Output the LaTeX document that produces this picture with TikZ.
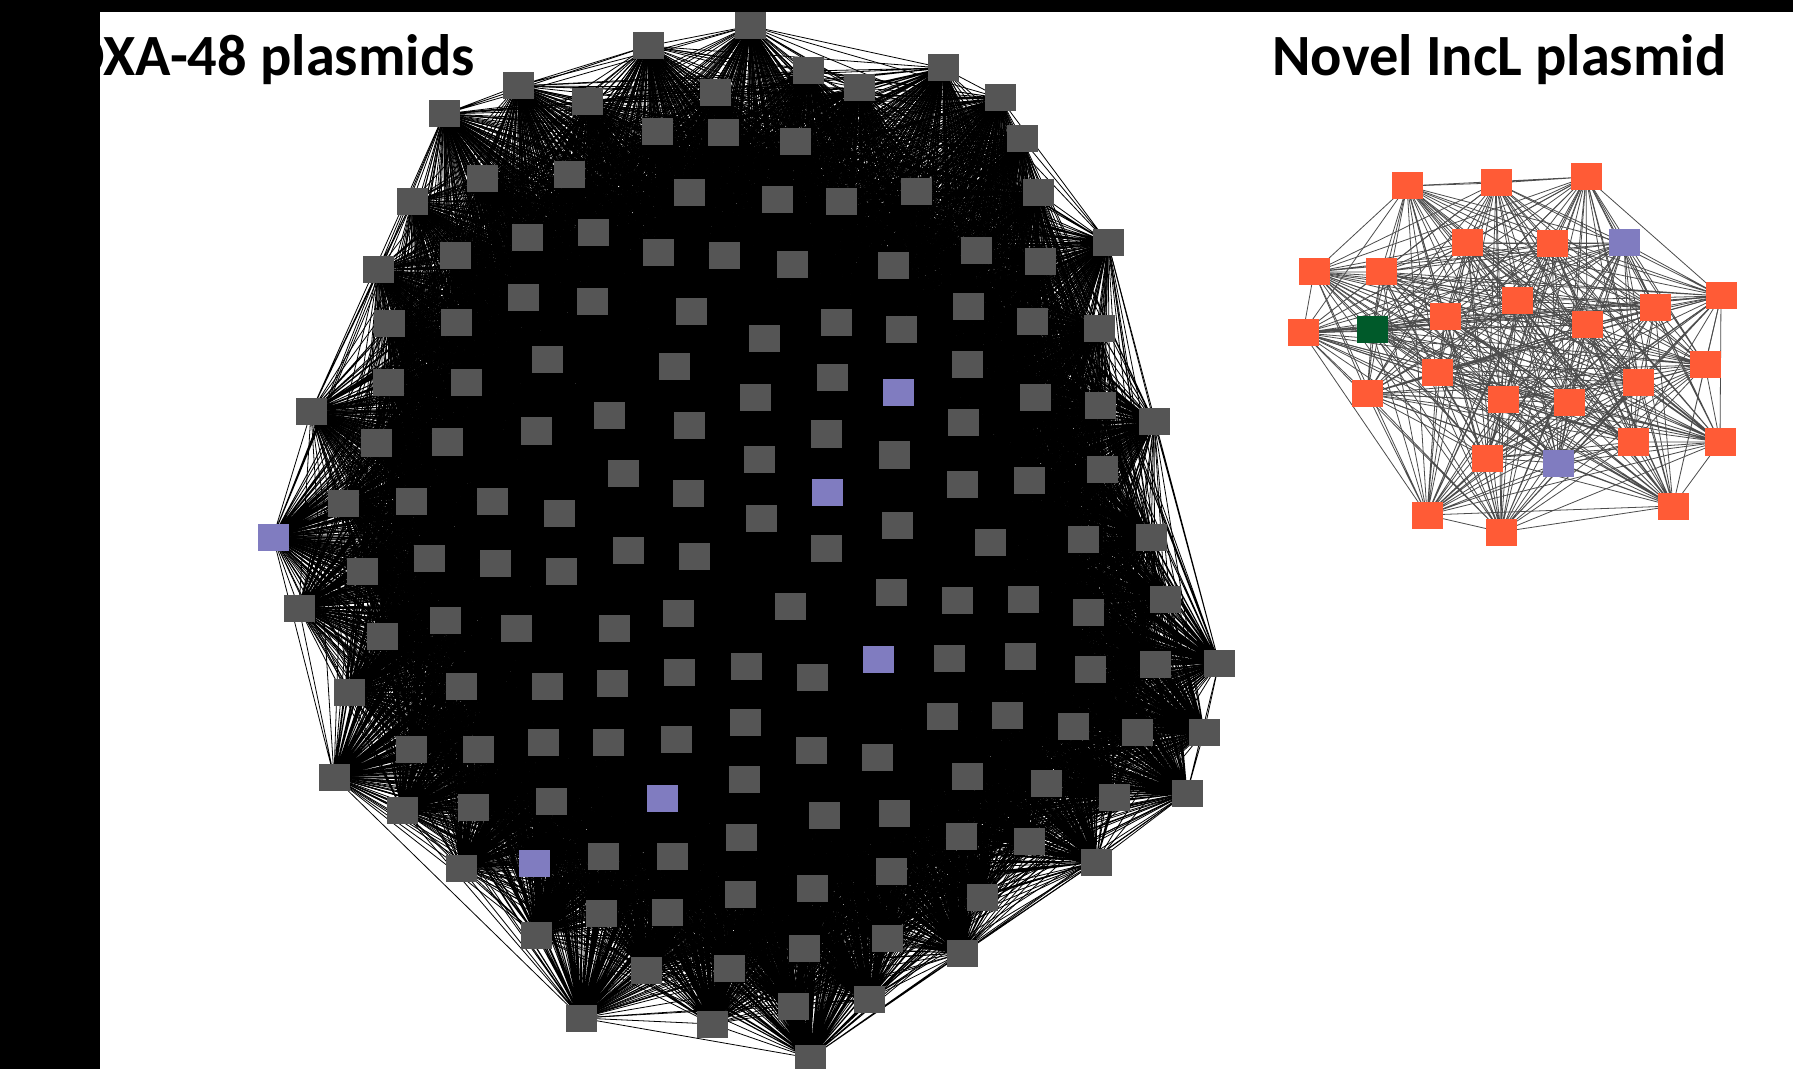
\documentclass[tikz,border=0pt]{standalone}
\usepackage{fontspec}
\setmainfont{Carlito}
\usetikzlibrary{backgrounds}
\definecolor{colg}{HTML}{555555}
\definecolor{colp}{HTML}{807CC0}
\definecolor{colo}{HTML}{FF5B36}
\definecolor{cold}{HTML}{005A2A}
\begin{document}
\begin{tikzpicture}[x=0.5pt,y=-0.5pt,
  sq/.style={rectangle,inner sep=0pt,minimum width=15.5pt,minimum height=13.5pt},
  link/.style={line width=0.4pt,black},
  title/.style={inner sep=0pt,font=\fontsize{29.2}{35}\selectfont\bfseries}]
  \useasboundingbox (0,0) rectangle (1793,1069);
  % OXA-48 network
  \foreach \x/\y/\c [count=\n] in {750/26/g, 648/46/g, 518/86/g, 587/102/g, 715/93/g, 444/114/g, 657/132/g, 723/133/g,
    482/179/g, 569/175/g, 412/202/g, 689/193/g, 527/238/g, 593/233/g, 658/253/g, 724/256/g, 378/270/g, 455/256/g,
    523/298/g, 592/302/g, 691/312/g, 389/324/g, 456/323/g, 808/71/g, 859/88/g, 943/68/g, 1000/98/g, 795/142/g,
    1022/139/g, 777/200/g, 841/202/g, 916/192/g, 1038/193/g, 1108/243/g, 792/265/g, 893/266/g, 976/251/g, 1040/262/g,
    764/339/g, 836/323/g, 901/330/g, 968/307/g, 1032/322/g, 1099/329/g,
    547/360/g, 674/367/g, 311/412/g, 388/383/g, 466/383/g, 376/443/g, 447/442/g, 536/431/g, 609/416/g, 689/426/g,
    623/473/g, 688/493/g, 343/503/g, 411/501/g, 492/501/g, 559/513/g, 273/537/p, 628/550/g, 694/556/g, 362/571/g,
    429/558/g, 495/563/g, 561/571/g, 299/608/g, 382/636/g, 445/620/g, 516/628/g, 614/628/g, 678/613/g, 349/692/g,
    461/686/g, 547/686/g, 612/683/g, 679/672/g, 967/365/g, 832/378/g, 898/393/p, 755/398/g, 1035/398/g, 1100/406/g,
    1154/422/g, 826/434/g, 894/455/g, 759/459/g, 963/423/g, 1102/469/g, 1029/480/g, 962/484/g, 827/492/p, 761/518/g,
    897/525/g, 826/548/g, 990/542/g, 1083/539/g, 1151/537/g, 790/606/g, 891/592/g, 957/600/g, 1023/599/g, 1088/612/g,
    1165/599/g, 1219/663/g, 878/659/p, 949/658/g, 1020/656/g, 1090/669/g, 1155/664/g, 746/666/g, 812/677/g,
    745/722/g, 411/749/g, 478/749/g, 543/742/g, 608/742/g, 676/739/g, 334/777/g, 402/810/g, 473/807/g, 551/801/g,
    662/798/p, 744/779/g, 461/868/g, 534/863/p, 603/856/g, 672/856/g, 741/837/g, 601/913/g, 667/912/g, 740/894/g,
    536/935/g, 646/970/g, 729/968/g, 581/1018/g, 712/1024/g, 942/716/g, 1007/715/g, 1073/726/g, 1137/732/g, 1204/732/g,
    811/750/g, 877/757/g, 967/776/g, 1046/783/g, 1114/797/g, 1187/793/g, 824/815/g, 894/813/g, 961/836/g, 1029/841/g,
    1096/862/g, 812/888/g, 891/871/g, 982/897/g, 804/948/g, 887/938/g, 962/953/g, 793/1006/g, 869/999/g, 810/1058/g}
    {\node[sq,fill=col\c] (b\n) at (\x,\y) {}; \xdef\nbig{\n}}
  % IncL network
  \foreach \x/\y/\c [count=\n] in {1407/186/o, 1496/183/o, 1586/177/o, 1467/243/o, 1552/244/o, 1624/243/p, 1314/272/o,
    1381/272/o, 1721/296/o, 1517/301/o, 1445/317/o, 1655/308/o, 1587/325/o, 1303/333/o, 1372/330/d, 1705/365/o,
    1437/373/o, 1638/383/o, 1367/394/o, 1503/400/o, 1569/403/o, 1633/442/o, 1720/442/o, 1487/458/o, 1558/463/p,
    1673/506/o, 1427/515/o, 1501/532/o}
    {\node[sq,fill=col\c] (r\n) at (\x,\y) {}; \xdef\nsmall{\n}}
  \begin{pgfonlayer}{background}
    \fill[white] (0,0) rectangle (1793,1069);
    \foreach \i in {2,...,\nbig}{
      \pgfmathtruncatemacro\k{\i-1}
      \draw[link] foreach \j in {1,...,\k}{(b\i.center) -- (b\j.center)};
    }
    \foreach \i in {2,...,\nsmall}{
      \pgfmathtruncatemacro\k{\i-1}
      \draw[link,black!70] foreach \j in {1,...,\k}{(r\i.center) -- (r\j.center)};
    }
  \end{pgfonlayer}
  \node[title,anchor=base east] (oxa) at (475,76) {OXA-48 plasmids};
  \node[title,anchor=base west] (incl) at (1272,76) {Novel IncL plasmid};
  \fill[black] (0,0) rectangle (100,1069);
  \fill[black] (0,0) rectangle (1793,12);
\end{tikzpicture}
\end{document}
